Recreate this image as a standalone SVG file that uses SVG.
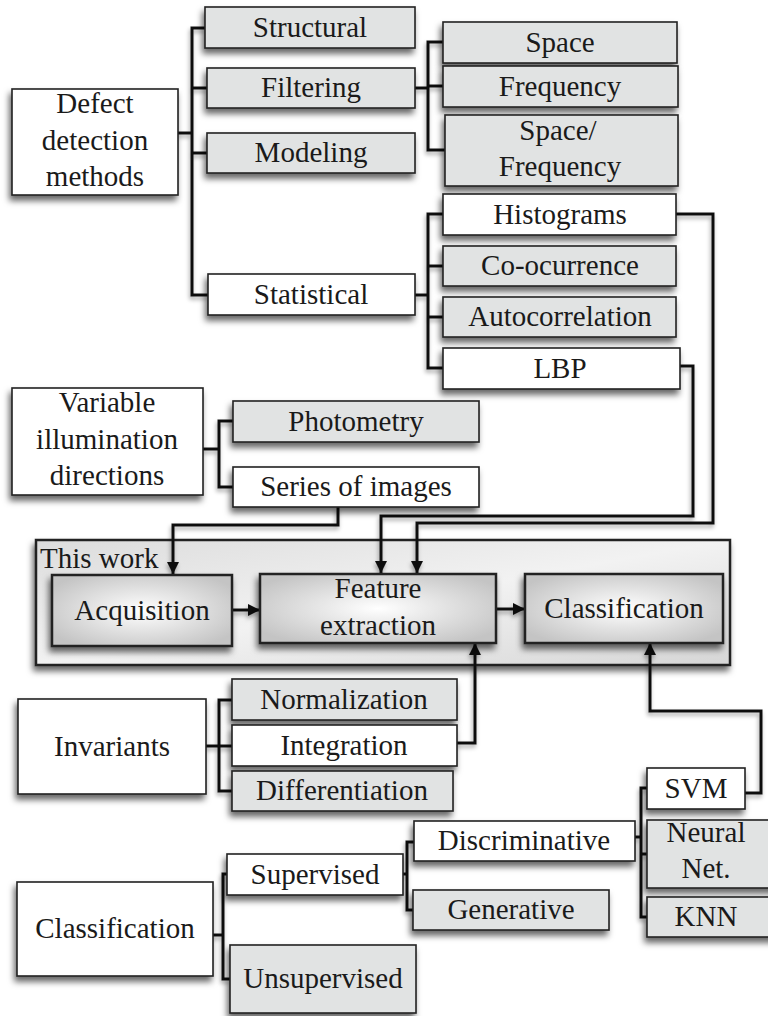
<svg xmlns="http://www.w3.org/2000/svg" width="768" height="1016" viewBox="0 0 768 1016" font-family="'Liberation Serif', 'DejaVu Serif', serif">
  <defs>
    <filter id="shadow" x="-20%" y="-20%" width="140%" height="160%">
      <feDropShadow dx="-2" dy="5" stdDeviation="3" flood-color="#000" flood-opacity="0.6"/>
    </filter>
    <filter id="lineShadow" x="-5%" y="-5%" width="110%" height="110%">
      <feDropShadow dx="-1" dy="3" stdDeviation="2" flood-color="#000" flood-opacity="0.35"/>
    </filter>
    <radialGradient id="stageFill" cx="50%" cy="50%" r="60%">
      <stop offset="0" stop-color="#ffffff"/>
      <stop offset="1" stop-color="#c4c4c4"/>
    </radialGradient>
    <linearGradient id="frameFill" x1="0" y1="0" x2="1" y2="1">
      <stop offset="0" stop-color="#dcdcdc"/>
      <stop offset="0.5" stop-color="#f2f2f2"/>
      <stop offset="1" stop-color="#d6d6d6"/>
    </linearGradient>
    <marker id="arrow" viewBox="0 0 10 10" refX="10" refY="5" markerWidth="5" markerHeight="4" orient="auto" markerUnits="strokeWidth">
      <path d="M0,0 L10,5 L0,10 z" fill="#111"/>
    </marker>
  </defs>
  <style>
    rect { stroke: #222; stroke-width: 1.6; filter: url(#shadow); }
    .w { fill: #ffffff; }
    .g { fill: #e1e3e3; }
    .s { fill: url(#stageFill); stroke-width: 2.5; }
    .frame { fill: url(#frameFill); stroke-width: 2.5; }
    text { font-family: "Liberation Serif", "DejaVu Serif", serif; font-size: 29px; fill: #1a1a1a; text-anchor: middle; }
    .conn path { fill: none; stroke: #111; stroke-width: 3; }
    .conn .a { marker-end: url(#arrow); }
  </style>

  <rect width="768" height="1016" fill="#ffffff" style="filter:none;stroke:none"/>

  <!-- stage frame drawn first so everything sits on top -->
  <g id="this-work">
    <rect class="frame" x="36" y="540" width="694" height="125"/>
    <text x="40" y="568" style="text-anchor:start">This work</text>
  </g>

  <g class="conn" id="connectors" filter="url(#lineShadow)">
    <!-- defect detection tree -->
    <path d="M178,133 H192"/>
    <path d="M205,28 H192 V295 H208"/>
    <path d="M192,88 H207"/>
    <path d="M192,153 H207"/>
    <path d="M415,88 H428"/>
    <path d="M443,42 H428 V150 H445"/>
    <path d="M428,86 H443"/>
    <path d="M415,295 H428"/>
    <path d="M443,214 H428 V368 H443"/>
    <path d="M428,266 H443"/>
    <path d="M428,317 H443"/>
    <!-- histograms and LBP into feature extraction -->
    <path class="a" d="M676,214 H713 V523 H417 V573"/>
    <path class="a" d="M680,366 H693 V516 H381 V573"/>
    <!-- illumination tree -->
    <path d="M203,449 H219"/>
    <path d="M233,421 H219 V487 H233"/>
    <path class="a" d="M338,507 V525 H173 V574"/>
    <!-- pipeline -->
    <path class="a" d="M232,610 H260"/>
    <path class="a" d="M496,609 H525"/>
    <!-- invariants tree -->
    <path d="M206,746 H219"/>
    <path d="M232,700 H219 V791 H232"/>
    <path d="M219,746 H232"/>
    <path class="a" d="M457,743 H475 V643"/>
    <!-- classifier back to classification stage -->
    <path class="a" d="M745,793 H761 V711 H650 V643"/>
    <!-- classification tree -->
    <path d="M213,935 H223"/>
    <path d="M227,874 H223 V979 H230"/>
    <path d="M403,874 H407"/>
    <path d="M414,842 H407 V910 H413"/>
    <path d="M635,837 H641"/>
    <path d="M647,788 H641 V917 H647"/>
    <path d="M641,854 H647"/>
  </g>

  <g id="defect-detection">
    <rect class="w" x="12" y="89" width="166" height="106"/>
    <text x="95" y="113">Defect</text>
    <text x="95" y="150">detection</text>
    <text x="95" y="186">methods</text>
  </g>
  <g id="structural"><rect class="g" x="205" y="7" width="210" height="41"/><text x="310" y="37">Structural</text></g>
  <g id="filtering"><rect class="g" x="207" y="68" width="208" height="40"/><text x="311" y="97">Filtering</text></g>
  <g id="modeling"><rect class="g" x="207" y="133" width="208" height="40"/><text x="311" y="162">Modeling</text></g>
  <g id="statistical"><rect class="w" x="208" y="274" width="207" height="41"/><text x="311" y="304">Statistical</text></g>

  <g id="space"><rect class="g" x="443" y="22" width="234" height="41"/><text x="560" y="52">Space</text></g>
  <g id="frequency"><rect class="g" x="443" y="66" width="235" height="41"/><text x="560" y="96">Frequency</text></g>
  <g id="space-frequency">
    <rect class="g" x="445" y="115" width="233" height="71"/>
    <text x="558" y="140">Space/</text>
    <text x="560" y="176">Frequency</text>
  </g>

  <g id="histograms"><rect class="w" x="443" y="194" width="233" height="41"/><text x="560" y="224">Histograms</text></g>
  <g id="co-ocurrence"><rect class="g" x="443" y="246" width="233" height="40"/><text x="560" y="275">Co-ocurrence</text></g>
  <g id="autocorrelation"><rect class="g" x="443" y="297" width="233" height="40"/><text x="560" y="326">Autocorrelation</text></g>
  <g id="lbp"><rect class="w" x="443" y="348" width="237" height="41"/><text x="560" y="378">LBP</text></g>

  <g id="illumination">
    <rect class="w" x="12" y="388" width="191" height="107"/>
    <text x="107" y="412">Variable</text>
    <text x="107" y="449">illumination</text>
    <text x="107" y="485">directions</text>
  </g>
  <g id="photometry"><rect class="g" x="233" y="401" width="246" height="41"/><text x="356" y="431">Photometry</text></g>
  <g id="series-of-images"><rect class="w" x="233" y="467" width="246" height="40"/><text x="356" y="496">Series of images</text></g>

  <g id="acquisition"><rect class="s" x="52" y="575" width="180" height="71"/><text x="142" y="620">Acquisition</text></g>
  <g id="feature-extraction">
    <rect class="s" x="260" y="574" width="236" height="69"/>
    <text x="378" y="598">Feature</text>
    <text x="378" y="635">extraction</text>
  </g>
  <g id="classification-stage"><rect class="s" x="525" y="574" width="198" height="69"/><text x="624" y="618">Classification</text></g>

  <g id="invariants"><rect class="w" x="18" y="699" width="188" height="95"/><text x="112" y="756">Invariants</text></g>
  <g id="normalization"><rect class="g" x="232" y="679" width="225" height="41"/><text x="344" y="709">Normalization</text></g>
  <g id="integration"><rect class="w" x="232" y="725" width="225" height="41"/><text x="344" y="755">Integration</text></g>
  <g id="differentiation"><rect class="g" x="232" y="771" width="221" height="40"/><text x="342" y="800">Differentiation</text></g>

  <g id="svm"><rect class="w" x="647" y="768" width="98" height="41"/><text x="696" y="798">SVM</text></g>
  <g id="neural-net">
    <rect class="g" x="647" y="820" width="130" height="68"/>
    <text x="706" y="842">Neural</text>
    <text x="706" y="878">Net.</text>
  </g>
  <g id="knn"><rect class="g" x="647" y="897" width="130" height="40"/><text x="706" y="926">KNN</text></g>

  <g id="discriminative"><rect class="w" x="414" y="821" width="221" height="40"/><text x="524" y="850">Discriminative</text></g>
  <g id="generative"><rect class="g" x="413" y="890" width="196" height="40"/><text x="511" y="919">Generative</text></g>
  <g id="supervised"><rect class="w" x="227" y="854" width="176" height="41"/><text x="315" y="884">Supervised</text></g>
  <g id="classification"><rect class="w" x="17" y="882" width="196" height="94"/><text x="115" y="938">Classification</text></g>
  <g id="unsupervised"><rect class="g" x="230" y="945" width="186" height="68"/><text x="323" y="988">Unsupervised</text></g>
</svg>
